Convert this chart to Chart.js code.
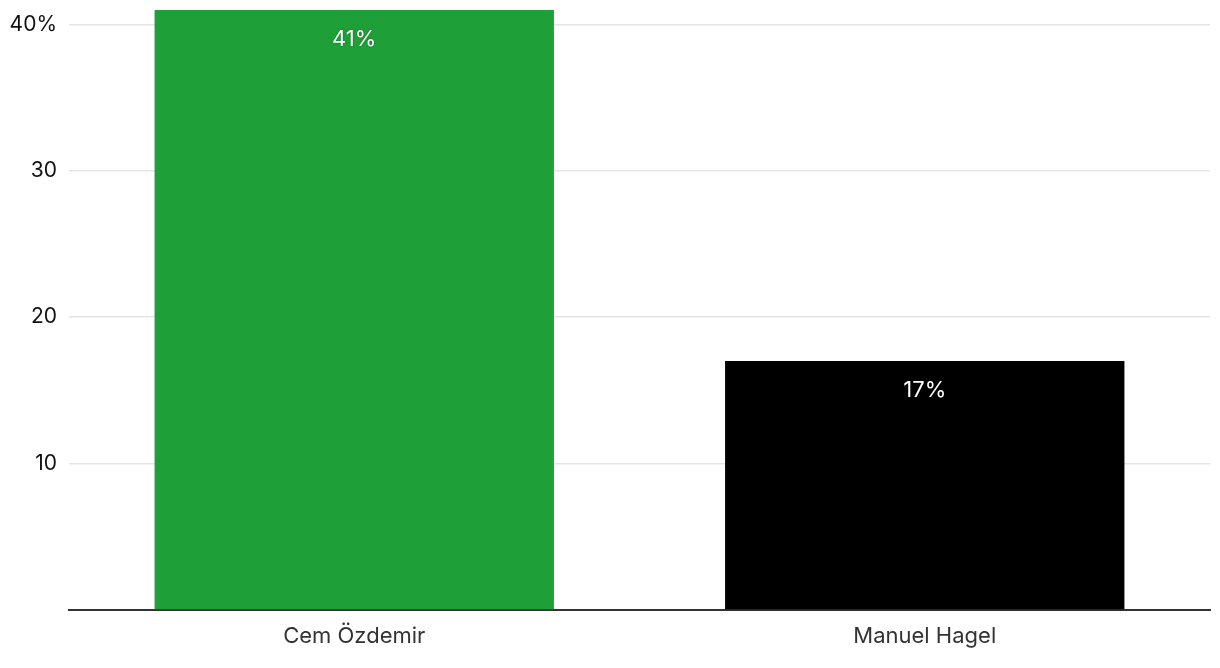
<!DOCTYPE html>
<html>
<head>
<meta charset="utf-8">
<script src="https://cdn.jsdelivr.net/npm/chart.js@4/dist/chart.umd.min.js"></script>
<style>
  html, body { margin: 0; padding: 0; background: #fff; }
  #wrap { width: 1220px; height: 668px; }
</style>
</head>
<body>
<div id="wrap"><canvas id="chart-1"></canvas></div>
<script>
const categories = ["Cem Özdemir", "Manuel Hagel"];
const shares = [41, 17];
const barColors = ["#1e9f38", "#000000"];
const yTicks = [10, 20, 30, 40];

// white value labels just inside the top of each bar
const valueLabels = {
  id: "valueLabels",
  afterDatasetsDraw(chart) {
    const ctx = chart.ctx;
    const meta = chart.getDatasetMeta(0);
    ctx.save();
    ctx.font = "22px Inter";
    ctx.fillStyle = "#fff";
    ctx.textAlign = "center";
    ctx.textBaseline = "middle";
    ctx.shadowColor = "rgba(0,0,0,0.35)";
    ctx.shadowBlur = 2;
    meta.data.forEach((bar, i) => {
      ctx.fillText(shares[i] + "%", bar.x, bar.y + 29);
    });
    ctx.restore();
  }
};

const chart1Area = document.getElementById("chart-1");

const chart1 = new Chart(chart1Area, {
  type: "bar",
  data: {
    labels: categories,
    datasets: [
      {
        data: shares,
        backgroundColor: barColors,
        borderWidth: 0,
        barPercentage: 0.7,
        categoryPercentage: 1,
      },
    ],
  },
  options: {
    responsive: true,
    maintainAspectRatio: false,
    animation: false,
    layout: { padding: { top: 10, right: 10, left: 0, bottom: 4 } },
    plugins: {
      legend: { display: false },
      tooltip: { enabled: false },
    },
    scales: {
      x: {
        grid: { display: false, drawTicks: false },
        border: { display: true, color: "#333", width: 2 },
        ticks: { color: "#333", font: { family: "Inter", size: 22 }, padding: 14 },
      },
      y: {
        min: 0,
        max: 41,
        afterBuildTicks(axis) {
          axis.ticks = yTicks.map((v) => ({ value: v }));
        },
        afterFit(axis) {
          axis.paddingTop = 0;
          axis.width = 69;
        },
        grid: { color: "#e5e5e5", drawTicks: false, lineWidth: 1.5 },
        border: { display: false },
        ticks: {
          color: "#111",
          font: { family: "Inter", size: 21 },
          padding: 12,
          callback: (v) => (v === 40 ? v + "%" : v),
        },
      },
    },
  },
  plugins: [valueLabels],
});
</script>
</body>
</html>
